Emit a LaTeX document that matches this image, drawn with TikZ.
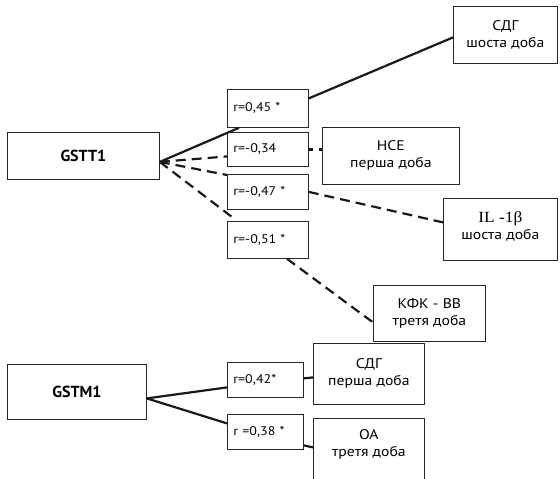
\documentclass[tikz,border=0pt]{standalone}
\usepackage{fontspec}
\setmainfont{PT Sans}[FakeStretch=1.12]
\newfontfamily\genefont{PT Sans}
\newfontfamily\greekserif{Liberation Serif}[FakeStretch=1.12]
\usetikzlibrary{calc}

\begin{document}
\begin{tikzpicture}[x=1pt,y=-1pt,
  box/.style={draw=black!85, line width=0.8pt, inner sep=0pt, anchor=north west,
    align=center, font=\fontsize{14}{17}\selectfont},
  genebox/.style={box, font=\genefont\fontsize{16}{18}\selectfont\bfseries},
  rbox/.style={box, inner xsep=6pt, text width=#1, align=left,
    font=\fontsize{12.5}{14}\selectfont},
  link/.style={line width=2.2pt, draw=black!90},
  dlink/.style={link, dash pattern=on 10pt off 6pt},
]
\useasboundingbox (0,0) rectangle (560,479);

% gene boxes
\node[genebox, minimum width=152, minimum height=47] (gstt) at (7,132) {GSTT1};
\node[genebox, minimum width=139, minimum height=55] (gstm) at (7,364) {GSTM1};

% correlation coefficients
\node[rbox=69, minimum width=81, minimum height=38] (r45) at (227,89)  {r=0,45 *};
\node[rbox=69, minimum width=81, minimum height=34] (r34) at (227,132) {r=-0,34};
\node[rbox=69, minimum width=81, minimum height=35] (r47) at (227,174) {r=-0,47 *};
\node[rbox=69, minimum width=81, minimum height=37] (r51) at (227,221) {r=-0,51 *};
\node[rbox=64, minimum width=76, minimum height=35] (r42) at (227,362) {r=0,42*};
\node[rbox=64, minimum width=76, minimum height=35] (r38) at (227,414) {r =0,38 *};

% indicators
\node[box, minimum width=104, minimum height=57] (sdg6) at (453,6)   {СДГ\\шоста доба};
\node[box, minimum width=137, minimum height=57] (nce)  at (322,127) {НСЕ\\перша доба};
\node[box, minimum width=114, minimum height=62] (il)   at (443,198)
  {{\greekserif\fontsize{15.5}{18}\selectfont IL -1β}\\шоста доба\rule[-8pt]{0pt}{0pt}};
\node[box, minimum width=112, minimum height=56] (kfk)  at (373,285) {КФК - ВВ\\третя доба};
\node[box, minimum width=111, minimum height=61] (sdg1) at (313,343) {СДГ\\перша доба};
\node[box, minimum width=111, minimum height=70] (oa)   at (313,418)
  {ОА\\третя доба\rule[-20pt]{0pt}{0pt}};

% GSTT1 links
\coordinate (hubT) at ($(gstt.east)+(0,6)$);
\draw[link]  (hubT) -- ($(r45.south west)+(12,0)$);
\draw[link]  ($(r45.east)+(0,-10)$) -- ($(sdg6.west)+(0,2.5)$);
\draw[dlink] (hubT) -- ($(r34.west)+(0,7)$);
\draw[link, dash pattern=on 4pt off 6pt] (r34.east) -- ($(nce.west)+(0,-6.5)$);
\draw[dlink] (hubT) -- ($(r47.north west)+(0,1)$);
\draw[dlink] (r47.east) -- ($(il.west)+(0,-7)$);
\draw[dlink] (hubT) -- ($(r51.north west)+(5,-4)$);
\draw[dlink] ($(r51.south west)+(60,0)$) -- ($(kfk.west)+(0,9)$);

% GSTM1 links
\coordinate (hubM) at ($(gstm.east)+(0,6.5)$);
\draw[link] (hubM) -- ($(r42.west)+(0,7.5)$);
\draw[link] (hubM) -- ($(r38.west)+(0,-8.5)$);
\draw[link] ($(r42.east)+(0,-1.5)$) -- ($(sdg1.west)+(0,3.5)$);
\draw[link] ($(r38.east)+(0,13.5)$) -- ($(oa.west)+(0,-6)$);
\end{tikzpicture}
\end{document}
